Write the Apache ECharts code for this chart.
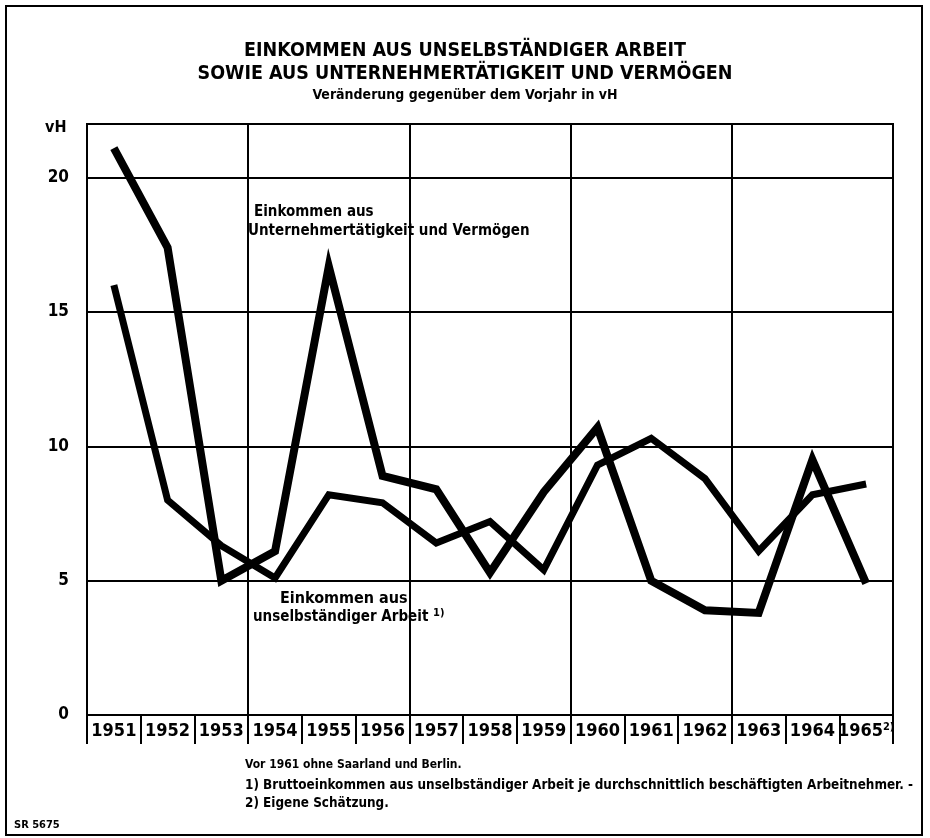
<!DOCTYPE html>
<html>
<head>
<meta charset="utf-8">
<script src="https://cdn.jsdelivr.net/npm/echarts@6/dist/echarts.min.js"></script>
<style>
  html, body { margin: 0; padding: 0; background: #fff; }
  #chart { width: 930px; height: 838px; }
</style>
</head>
<body>
<div id="chart"></div>
<script>
// Jahre
var years = ['1951', '1952', '1953', '1954', '1955', '1956', '1957', '1958',
             '1959', '1960', '1961', '1962', '1963', '1964', '1965'];
// Einkommen aus Unternehmertätigkeit und Vermögen, vH
var unternehmer = [21.1, 17.4, 5.0, 6.1, 16.7, 8.9, 8.4, 5.3, 8.3, 10.7, 5.0, 3.9, 3.8, 9.5, 4.9];
// Einkommen aus unselbständiger Arbeit 1), vH
var unselbst = [16.0, 8.0, 6.3, 5.1, 8.2, 7.9, 6.4, 7.2, 5.4, 9.3, 10.3, 8.8, 6.1, 8.2, 8.6];
var yTicks = [0, 5, 10, 15, 20];

var font = "'Liberation Sans Narrow', 'DejaVu Sans Condensed', sans-serif";

var myChart = echarts.init(document.getElementById('chart'));
var option = {
    backgroundColor: '#fff',
    animation: false,
    title: [
        {
            text: 'EINKOMMEN AUS UNSELBSTÄNDIGER ARBEIT\nSOWIE AUS UNTERNEHMERTÄTIGKEIT UND VERMÖGEN',
            left: 'center', top: 34,
            textStyle: { fontFamily: font, fontWeight: 'bold', fontSize: 19.5, lineHeight: 23, color: '#000' }
        },
        {
            text: 'Veränderung gegenüber dem Vorjahr in vH',
            left: 'center', top: 83,
            textStyle: { fontFamily: font, fontWeight: 'bold', fontSize: 14, color: '#000' }
        }
    ],
    grid: {
        left: 87, right: 37, top: 124, bottom: 123,
        show: true, borderColor: '#000', borderWidth: 2
    },
    xAxis: {
        type: 'category',
        data: years,
        boundaryGap: true,
        axisLine: { lineStyle: { color: '#000', width: 2 } },
        axisTick: { show: true, interval: 0, length: 29, lineStyle: { color: '#000', width: 2 } },
        splitLine: {
            show: true,
            interval: function (index) { return index % 3 === 0; },
            lineStyle: { color: '#000', width: 2 }
        },
        axisLabel: {
            interval: 0, margin: 7,
            color: '#000', fontFamily: font, fontWeight: 'bold', fontSize: 18,
            formatter: function (v) { return v === '1965' ? '{a|1965}{s|2)}' : v; },
            rich: {
                a: { fontFamily: font, fontWeight: 'bold', fontSize: 18, color: '#000' },
                s: { fontFamily: font, fontWeight: 'bold', fontSize: 11, color: '#000', verticalAlign: 'top', padding: [0, 0, 8, 0] }
            }
        }
    },
    yAxis: {
        type: 'value',
        min: 0, max: 22, interval: 5,
        axisLine: { show: false },
        axisTick: { show: false },
        splitLine: { show: true, lineStyle: { color: '#000', width: 2 } },
        axisLabel: {
            margin: 18,
            color: '#000', fontFamily: font, fontWeight: 'bold', fontSize: 17,
            formatter: function (v) { return yTicks.indexOf(v) >= 0 ? String(v) : ''; }
        }
    },
    graphic: [
        { type: 'rect', shape: { x: 6, y: 6, width: 916, height: 829 }, style: { fill: 'none', stroke: '#000', lineWidth: 2 }, silent: true },
        {
            type: 'text', left: 45, top: 120,
            style: { text: 'vH', fontFamily: font, fontWeight: 'bold', fontSize: 16, fill: '#000' }
        },
        {
            type: 'text', left: 248, top: 203,
            style: {
                text: '{c|Einkommen aus}\nUnternehmertätigkeit und Vermögen',
                fontFamily: font, fontWeight: 'bold', fontSize: 15, lineHeight: 19, fill: '#000',
                rich: { c: { fontFamily: font, fontWeight: 'bold', fontSize: 15, padding: [0, 0, 0, 6] } }
            }
        },
        {
            type: 'text', left: 253, top: 589,
            style: {
                text: '{c|Einkommen aus}\nunselbständiger Arbeit {s|1)}',
                fontFamily: font, fontWeight: 'bold', fontSize: 15, lineHeight: 19, fill: '#000',
                rich: {
                    c: { fontFamily: font, fontWeight: 'bold', fontSize: 16, padding: [0, 0, 0, 27] },
                    s: { fontFamily: font, fontWeight: 'bold', fontSize: 11, verticalAlign: 'top', padding: [0, 0, 6, 0] }
                }
            }
        },
        {
            type: 'text', left: 245, top: 759,
            style: {
                text: 'Vor 1961 ohne Saarland und Berlin.',
                fontFamily: font, fontWeight: 'bold', fontSize: 12, fill: '#000'
            }
        },
        {
            type: 'text', left: 245, top: 777,
            style: {
                text: '1) Bruttoeinkommen aus unselbständiger Arbeit je durchschnittlich beschäftigten Arbeitnehmer. -\n2) Eigene Schätzung.',
                fontFamily: font, fontWeight: 'bold', fontSize: 13.4, lineHeight: 18, fill: '#000'
            }
        },
        {
            type: 'text', left: 14, top: 820,
            style: { text: 'SR 5675', fontFamily: font, fontWeight: 'bold', fontSize: 11, fill: '#000' }
        }
    ],
    series: [
        {
            name: 'Einkommen aus Unternehmertätigkeit und Vermögen',
            type: 'line',
            data: unternehmer,
            showSymbol: false,
            lineStyle: { color: '#000', width: 8, join: 'miter' }
        },
        {
            name: 'Einkommen aus unselbständiger Arbeit',
            type: 'line',
            data: unselbst,
            showSymbol: false,
            lineStyle: { color: '#000', width: 7, join: 'miter' }
        }
    ]
};
myChart.setOption(option);
</script>
</body>
</html>
